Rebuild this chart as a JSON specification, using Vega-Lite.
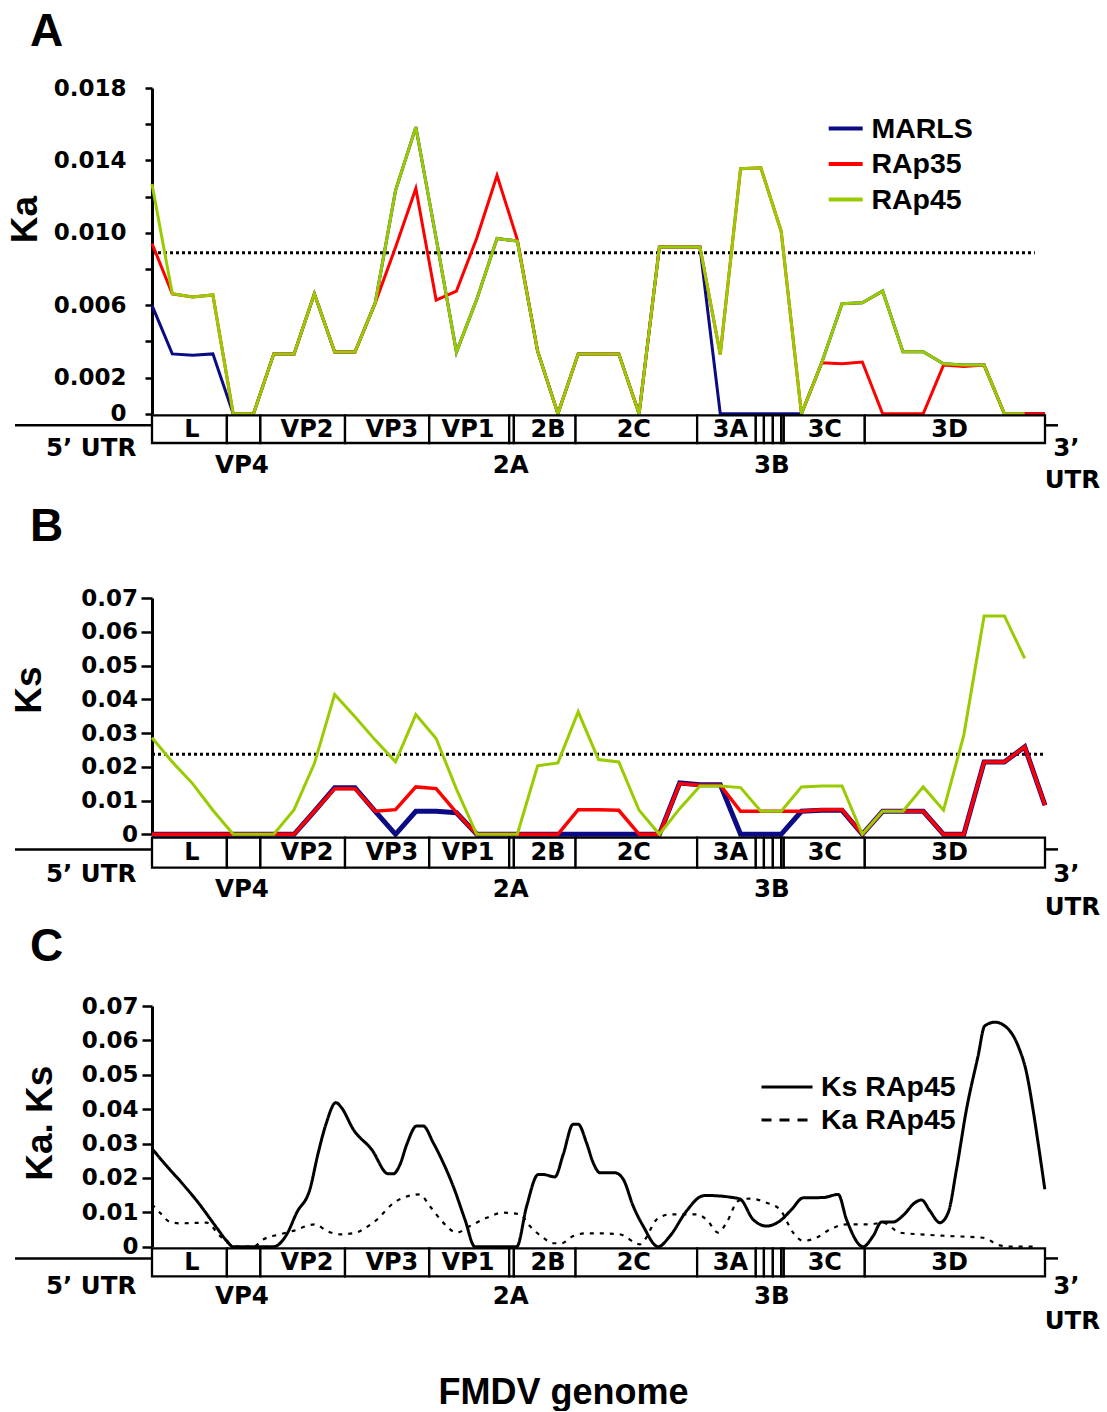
{
"$schema": "https://vega.github.io/schema/vega-lite/v6.json",
"background": "white",
"padding": {"left": 6, "top": 8, "right": 0, "bottom": 0},
"config": {"view": {"stroke": null}, "font": "Liberation Sans",
 "axis": {"domainColor": "black", "tickColor": "black", "labelColor": "black", "titleColor": "black", "grid": false, "domainWidth": 3, "tickWidth": 2.5, "labelFont": "DejaVu Sans", "labelFontWeight": "bold", "labelFontSize": 23, "labelOverlap": false, "labelBound": false, "labelFlush": false, "titleFont": "Liberation Sans", "titleFontWeight": "bold", "titleFontSize": 37, "titleAlign": "center", "titleBaseline": "middle"}},
"datasets": {
 "regions": [
  {"region": "L", "start": 0, "end": 3.69, "labelAt": 1.97},
  {"region": "VP4", "start": 3.69, "end": 5.34},
  {"region": "VP2", "start": 5.34, "end": 9.51, "labelAt": 7.64},
  {"region": "VP3", "start": 9.51, "end": 13.66, "labelAt": 11.82},
  {"region": "VP1", "start": 13.66, "end": 17.6, "labelAt": 15.57},
  {"region": "2A", "start": 17.6, "end": 17.83},
  {"region": "2B", "start": 17.83, "end": 20.87, "labelAt": 19.51},
  {"region": "2C", "start": 20.87, "end": 26.86, "labelAt": 23.74},
  {"region": "3A", "start": 26.86, "end": 29.75, "labelAt": 28.5},
  {"region": "3B-1", "start": 29.75, "end": 30.15},
  {"region": "3B-2", "start": 30.15, "end": 30.59},
  {"region": "3B-3", "start": 30.59, "end": 31.0},
  {"region": "3B-3C", "start": 31.0, "end": 31.13},
  {"region": "3C", "start": 31.13, "end": 35.12, "labelAt": 33.15},
  {"region": "3D", "start": 35.12, "end": 44, "labelAt": 39.3}
 ],
 "utr": [{"region": "5’ UTR", "start": -6.75, "end": 0}, {"region": "3’ UTR", "start": 44, "end": 44.64}],
 "belowLabels": [
  {"label": "5’ UTR", "pos": -3.0}, {"label": "VP4", "pos": 4.43}, {"label": "2A", "pos": 17.68},
  {"label": "3B", "pos": 30.54}, {"label": "3’", "pos": 45.05}, {"label": "UTR", "pos": 45.35}
 ],
 "kaThreshold": [{"start": 0, "end": 43.5, "value": 0.0089}],
 "ksThreshold": [{"start": 0, "end": 43.9, "value": 0.0237}],
 "ka": [
  {"series":"MARLS","window":0,"value":0.00599},{"series":"MARLS","window":1,"value":0.00331},{"series":"MARLS","window":2,"value":0.00323},{"series":"MARLS","window":3,"value":0.00331},{"series":"MARLS","window":4,"value":0},{"series":"MARLS","window":5,"value":0},{"series":"MARLS","window":6,"value":0.00331},{"series":"MARLS","window":7,"value":0.00331},{"series":"MARLS","window":8,"value":0.00663},{"series":"MARLS","window":9,"value":0.00341},{"series":"MARLS","window":10,"value":0.00341},{"series":"MARLS","window":11,"value":0.00613},{"series":"MARLS","window":12,"value":0.01234},{"series":"MARLS","window":13,"value":0.01584},{"series":"MARLS","window":14,"value":0.0097},{"series":"MARLS","window":15,"value":0.00341},{"series":"MARLS","window":16,"value":0.00632},{"series":"MARLS","window":17,"value":0.00969},{"series":"MARLS","window":18,"value":0.00954},{"series":"MARLS","window":19,"value":0.00346},{"series":"MARLS","window":20,"value":0},{"series":"MARLS","window":21,"value":0.00331},{"series":"MARLS","window":22,"value":0.00331},{"series":"MARLS","window":23,"value":0.00331},{"series":"MARLS","window":24,"value":0},{"series":"MARLS","window":25,"value":0.00921},{"series":"MARLS","window":26,"value":0.00921},{"series":"MARLS","window":27,"value":0.00921},{"series":"MARLS","window":28,"value":0},{"series":"MARLS","window":29,"value":0},{"series":"MARLS","window":30,"value":0},{"series":"MARLS","window":31,"value":0},{"series":"MARLS","window":32,"value":0},{"series":"MARLS","window":33,"value":0.00282},{"series":"MARLS","window":34,"value":0.00608},{"series":"MARLS","window":35,"value":0.00613},{"series":"MARLS","window":36,"value":0.00678},{"series":"MARLS","window":37,"value":0.00343},{"series":"MARLS","window":38,"value":0.00343},{"series":"MARLS","window":39,"value":0.00276},{"series":"MARLS","window":40,"value":0.00269},{"series":"MARLS","window":41,"value":0.00269},{"series":"MARLS","window":42,"value":0},{"series":"MARLS","window":43,"value":0},{"series":"MARLS","window":44,"value":0},
  {"series":"RAp35","window":0,"value":0.00941},{"series":"RAp35","window":1,"value":0.00663},{"series":"RAp35","window":2,"value":0.00646},{"series":"RAp35","window":3,"value":0.00657},{"series":"RAp35","window":4,"value":0},{"series":"RAp35","window":5,"value":0},{"series":"RAp35","window":6,"value":0.00331},{"series":"RAp35","window":7,"value":0.00331},{"series":"RAp35","window":8,"value":0.00663},{"series":"RAp35","window":9,"value":0.00341},{"series":"RAp35","window":10,"value":0.00341},{"series":"RAp35","window":11,"value":0.00613},{"series":"RAp35","window":12,"value":0.0092},{"series":"RAp35","window":13,"value":0.01245},{"series":"RAp35","window":14,"value":0.00628},{"series":"RAp35","window":15,"value":0.00678},{"series":"RAp35","window":16,"value":0.0097},{"series":"RAp35","window":17,"value":0.01317},{"series":"RAp35","window":18,"value":0.00963},{"series":"RAp35","window":19,"value":0.00346},{"series":"RAp35","window":20,"value":0},{"series":"RAp35","window":21,"value":0.00331},{"series":"RAp35","window":22,"value":0.00331},{"series":"RAp35","window":23,"value":0.00331},{"series":"RAp35","window":24,"value":0},{"series":"RAp35","window":25,"value":0.00921},{"series":"RAp35","window":26,"value":0.00921},{"series":"RAp35","window":27,"value":0.00921},{"series":"RAp35","window":28,"value":0.00328},{"series":"RAp35","window":29,"value":0.01354},{"series":"RAp35","window":30,"value":0.01359},{"series":"RAp35","window":31,"value":0.01009},{"series":"RAp35","window":32,"value":0},{"series":"RAp35","window":33,"value":0.00282},{"series":"RAp35","window":34,"value":0.00276},{"series":"RAp35","window":35,"value":0.00286},{"series":"RAp35","window":36,"value":0},{"series":"RAp35","window":37,"value":0},{"series":"RAp35","window":38,"value":0},{"series":"RAp35","window":39,"value":0.00269},{"series":"RAp35","window":40,"value":0.00262},{"series":"RAp35","window":41,"value":0.00269},{"series":"RAp35","window":42,"value":0},{"series":"RAp35","window":43,"value":0},{"series":"RAp35","window":44,"value":0},
  {"series":"RAp45","window":0,"value":0.0127},{"series":"RAp45","window":1,"value":0.00663},{"series":"RAp45","window":2,"value":0.00646},{"series":"RAp45","window":3,"value":0.00657},{"series":"RAp45","window":4,"value":0},{"series":"RAp45","window":5,"value":0},{"series":"RAp45","window":6,"value":0.00331},{"series":"RAp45","window":7,"value":0.00331},{"series":"RAp45","window":8,"value":0.00663},{"series":"RAp45","window":9,"value":0.00341},{"series":"RAp45","window":10,"value":0.00341},{"series":"RAp45","window":11,"value":0.00613},{"series":"RAp45","window":12,"value":0.01234},{"series":"RAp45","window":13,"value":0.01584},{"series":"RAp45","window":14,"value":0.0097},{"series":"RAp45","window":15,"value":0.00341},{"series":"RAp45","window":16,"value":0.00632},{"series":"RAp45","window":17,"value":0.00969},{"series":"RAp45","window":18,"value":0.00954},{"series":"RAp45","window":19,"value":0.00346},{"series":"RAp45","window":20,"value":0},{"series":"RAp45","window":21,"value":0.00331},{"series":"RAp45","window":22,"value":0.00331},{"series":"RAp45","window":23,"value":0.00331},{"series":"RAp45","window":24,"value":0},{"series":"RAp45","window":25,"value":0.00921},{"series":"RAp45","window":26,"value":0.00921},{"series":"RAp45","window":27,"value":0.00921},{"series":"RAp45","window":28,"value":0.00328},{"series":"RAp45","window":29,"value":0.01354},{"series":"RAp45","window":30,"value":0.01359},{"series":"RAp45","window":31,"value":0.01009},{"series":"RAp45","window":32,"value":0},{"series":"RAp45","window":33,"value":0.00282},{"series":"RAp45","window":34,"value":0.00608},{"series":"RAp45","window":35,"value":0.00613},{"series":"RAp45","window":36,"value":0.00678},{"series":"RAp45","window":37,"value":0.00343},{"series":"RAp45","window":38,"value":0.00343},{"series":"RAp45","window":39,"value":0.00276},{"series":"RAp45","window":40,"value":0.00269},{"series":"RAp45","window":41,"value":0.00269},{"series":"RAp45","window":42,"value":0},{"series":"RAp45","window":43,"value":0}
 ],
 "ks": [
  {"series":"MARLS","window":0,"value":0},{"series":"MARLS","window":1,"value":0},{"series":"MARLS","window":2,"value":0},{"series":"MARLS","window":3,"value":0},{"series":"MARLS","window":4,"value":0},{"series":"MARLS","window":5,"value":0},{"series":"MARLS","window":6,"value":0},{"series":"MARLS","window":7,"value":0},{"series":"MARLS","window":8,"value":0.0068},{"series":"MARLS","window":9,"value":0.0138},{"series":"MARLS","window":10,"value":0.0138},{"series":"MARLS","window":11,"value":0.00682},{"series":"MARLS","window":12,"value":0},{"series":"MARLS","window":13,"value":0.00682},{"series":"MARLS","window":14,"value":0.00682},{"series":"MARLS","window":15,"value":0.0064},{"series":"MARLS","window":16,"value":0},{"series":"MARLS","window":17,"value":0},{"series":"MARLS","window":18,"value":0},{"series":"MARLS","window":19,"value":0},{"series":"MARLS","window":20,"value":0},{"series":"MARLS","window":21,"value":0},{"series":"MARLS","window":22,"value":0},{"series":"MARLS","window":23,"value":0},{"series":"MARLS","window":24,"value":0},{"series":"MARLS","window":25,"value":0},{"series":"MARLS","window":26,"value":0.0152},{"series":"MARLS","window":27,"value":0.0147},{"series":"MARLS","window":28,"value":0.0147},{"series":"MARLS","window":29,"value":0},{"series":"MARLS","window":30,"value":0},{"series":"MARLS","window":31,"value":0},{"series":"MARLS","window":32,"value":0.00682},{"series":"MARLS","window":33,"value":0.0071},{"series":"MARLS","window":34,"value":0.0071},{"series":"MARLS","window":35,"value":0},{"series":"MARLS","window":36,"value":0.00682},{"series":"MARLS","window":37,"value":0.00682},{"series":"MARLS","window":38,"value":0.00682},{"series":"MARLS","window":39,"value":0},{"series":"MARLS","window":40,"value":0},{"series":"MARLS","window":41,"value":0.02145},{"series":"MARLS","window":42,"value":0.02145},{"series":"MARLS","window":43,"value":0.02591},{"series":"MARLS","window":44,"value":0.0086},
  {"series":"RAp35","window":0,"value":0},{"series":"RAp35","window":1,"value":0},{"series":"RAp35","window":2,"value":0},{"series":"RAp35","window":3,"value":0},{"series":"RAp35","window":4,"value":0},{"series":"RAp35","window":5,"value":0},{"series":"RAp35","window":6,"value":0},{"series":"RAp35","window":7,"value":0},{"series":"RAp35","window":8,"value":0.0068},{"series":"RAp35","window":9,"value":0.01353},{"series":"RAp35","window":10,"value":0.01353},{"series":"RAp35","window":11,"value":0.00682},{"series":"RAp35","window":12,"value":0.0073},{"series":"RAp35","window":13,"value":0.01404},{"series":"RAp35","window":14,"value":0.01353},{"series":"RAp35","window":15,"value":0.0064},{"series":"RAp35","window":16,"value":0},{"series":"RAp35","window":17,"value":0},{"series":"RAp35","window":18,"value":0},{"series":"RAp35","window":19,"value":0},{"series":"RAp35","window":20,"value":0},{"series":"RAp35","window":21,"value":0.0073},{"series":"RAp35","window":22,"value":0.0073},{"series":"RAp35","window":23,"value":0.00712},{"series":"RAp35","window":24,"value":0},{"series":"RAp35","window":25,"value":0},{"series":"RAp35","window":26,"value":0.01502},{"series":"RAp35","window":27,"value":0.01454},{"series":"RAp35","window":28,"value":0.01454},{"series":"RAp35","window":29,"value":0.00682},{"series":"RAp35","window":30,"value":0.00682},{"series":"RAp35","window":31,"value":0.00682},{"series":"RAp35","window":32,"value":0.00682},{"series":"RAp35","window":33,"value":0.0073},{"series":"RAp35","window":34,"value":0.0073},{"series":"RAp35","window":35,"value":0},{"series":"RAp35","window":36,"value":0.00682},{"series":"RAp35","window":37,"value":0.00682},{"series":"RAp35","window":38,"value":0.00682},{"series":"RAp35","window":39,"value":0},{"series":"RAp35","window":40,"value":0},{"series":"RAp35","window":41,"value":0.02145},{"series":"RAp35","window":42,"value":0.02145},{"series":"RAp35","window":43,"value":0.02591},{"series":"RAp35","window":44,"value":0.0086},
  {"series":"RAp45","window":0,"value":0.02858},{"series":"RAp45","window":1,"value":0.02145},{"series":"RAp45","window":2,"value":0.01502},{"series":"RAp45","window":3,"value":0.00712},{"series":"RAp45","window":4,"value":0},{"series":"RAp45","window":5,"value":0},{"series":"RAp45","window":6,"value":0},{"series":"RAp45","window":7,"value":0.0073},{"series":"RAp45","window":8,"value":0.02095},{"series":"RAp45","window":9,"value":0.04143},{"series":"RAp45","window":10,"value":0.0348},{"series":"RAp45","window":11,"value":0.0279},{"series":"RAp45","window":12,"value":0.02145},{"series":"RAp45","window":13,"value":0.0355},{"series":"RAp45","window":14,"value":0.02838},{"series":"RAp45","window":15,"value":0.0134},{"series":"RAp45","window":16,"value":0},{"series":"RAp45","window":17,"value":0},{"series":"RAp45","window":18,"value":0},{"series":"RAp45","window":19,"value":0.02027},{"series":"RAp45","window":20,"value":0.02116},{"series":"RAp45","window":21,"value":0.03629},{"series":"RAp45","window":22,"value":0.02214},{"series":"RAp45","window":23,"value":0.02145},{"series":"RAp45","window":24,"value":0.00712},{"series":"RAp45","window":25,"value":0},{"series":"RAp45","window":26,"value":0.0076},{"series":"RAp45","window":27,"value":0.01433},{"series":"RAp45","window":28,"value":0.01433},{"series":"RAp45","window":29,"value":0.01383},{"series":"RAp45","window":30,"value":0.00682},{"series":"RAp45","window":31,"value":0.00682},{"series":"RAp45","window":32,"value":0.01404},{"series":"RAp45","window":33,"value":0.01433},{"series":"RAp45","window":34,"value":0.01433},{"series":"RAp45","window":35,"value":0},{"series":"RAp45","window":36,"value":0.00682},{"series":"RAp45","window":37,"value":0.00682},{"series":"RAp45","window":38,"value":0.01404},{"series":"RAp45","window":39,"value":0.00712},{"series":"RAp45","window":40,"value":0.02938},{"series":"RAp45","window":41,"value":0.06469},{"series":"RAp45","window":42,"value":0.06469},{"series":"RAp45","window":43,"value":0.05211}
 ],
 "smooth": [
  {"series":"Ks RAp45","pos":0,"value":0.0285},{"series":"Ks RAp45","pos":0.72,"value":0.0235},{"series":"Ks RAp45","pos":1.46,"value":0.0186},{"series":"Ks RAp45","pos":2.28,"value":0.0128},{"series":"Ks RAp45","pos":3.19,"value":0.0055},{"series":"Ks RAp45","pos":3.68,"value":0.0017},{"series":"Ks RAp45","pos":4.0,"value":0},{"series":"Ks RAp45","pos":4.5,"value":0},{"series":"Ks RAp45","pos":5.98,"value":0},{"series":"Ks RAp45","pos":6.64,"value":0.0036},{"series":"Ks RAp45","pos":7.13,"value":0.0099},{"series":"Ks RAp45","pos":7.78,"value":0.0167},{"series":"Ks RAp45","pos":8.19,"value":0.0273},{"series":"Ks RAp45","pos":8.57,"value":0.0356},{"series":"Ks RAp45","pos":9.06,"value":0.0419},{"series":"Ks RAp45","pos":9.34,"value":0.0404},{"series":"Ks RAp45","pos":9.92,"value":0.0341},{"series":"Ks RAp45","pos":10.82,"value":0.0283},{"series":"Ks RAp45","pos":11.64,"value":0.0212},{"series":"Ks RAp45","pos":11.89,"value":0.0212},{"series":"Ks RAp45","pos":12.22,"value":0.0239},{"series":"Ks RAp45","pos":12.55,"value":0.0297},{"series":"Ks RAp45","pos":13.04,"value":0.0351},{"series":"Ks RAp45","pos":13.36,"value":0.0351},{"series":"Ks RAp45","pos":13.86,"value":0.0302},{"series":"Ks RAp45","pos":14.35,"value":0.0244},{"series":"Ks RAp45","pos":14.84,"value":0.0176},{"series":"Ks RAp45","pos":15.42,"value":0.0079},{"series":"Ks RAp45","pos":15.91,"value":0},{"series":"Ks RAp45","pos":17.97,"value":0},{"series":"Ks RAp45","pos":18.46,"value":0.0118},{"series":"Ks RAp45","pos":19.03,"value":0.021},{"series":"Ks RAp45","pos":19.28,"value":0.021},{"series":"Ks RAp45","pos":19.85,"value":0.0203},{"series":"Ks RAp45","pos":20.26,"value":0.0268},{"series":"Ks RAp45","pos":20.75,"value":0.0356},{"series":"Ks RAp45","pos":21.0,"value":0.0356},{"series":"Ks RAp45","pos":21.41,"value":0.0302},{"series":"Ks RAp45","pos":21.74,"value":0.0244},{"series":"Ks RAp45","pos":22.07,"value":0.0215},{"series":"Ks RAp45","pos":22.81,"value":0.0215},{"series":"Ks RAp45","pos":23.22,"value":0.0196},{"series":"Ks RAp45","pos":23.71,"value":0.0118},{"series":"Ks RAp45","pos":24.2,"value":0.006},{"series":"Ks RAp45","pos":24.94,"value":0},{"series":"Ks RAp45","pos":25.52,"value":0.0031},{"series":"Ks RAp45","pos":26.34,"value":0.0104},{"series":"Ks RAp45","pos":27.08,"value":0.0147},{"series":"Ks RAp45","pos":27.32,"value":0.0149},{"series":"Ks RAp45","pos":28.72,"value":0.0142},{"series":"Ks RAp45","pos":28.97,"value":0.0139},{"series":"Ks RAp45","pos":29.62,"value":0.0079},{"series":"Ks RAp45","pos":30.28,"value":0.006},{"series":"Ks RAp45","pos":30.94,"value":0.0075},{"series":"Ks RAp45","pos":31.51,"value":0.0108},{"series":"Ks RAp45","pos":32.08,"value":0.0142},{"series":"Ks RAp45","pos":33.07,"value":0.0143},{"series":"Ks RAp45","pos":33.81,"value":0.0152},{"series":"Ks RAp45","pos":34.22,"value":0.0079},{"series":"Ks RAp45","pos":35.04,"value":0},{"series":"Ks RAp45","pos":35.53,"value":0.0031},{"series":"Ks RAp45","pos":35.95,"value":0.0072},{"series":"Ks RAp45","pos":36.52,"value":0.0072},{"series":"Ks RAp45","pos":37.01,"value":0.0091},{"series":"Ks RAp45","pos":37.59,"value":0.0128},{"series":"Ks RAp45","pos":37.92,"value":0.0136},{"series":"Ks RAp45","pos":38.33,"value":0.0104},{"series":"Ks RAp45","pos":38.82,"value":0.007},{"series":"Ks RAp45","pos":39.23,"value":0.0099},{"series":"Ks RAp45","pos":39.64,"value":0.0225},{"series":"Ks RAp45","pos":40.13,"value":0.0399},{"series":"Ks RAp45","pos":40.7,"value":0.0554},{"series":"Ks RAp45","pos":41.03,"value":0.0642},{"series":"Ks RAp45","pos":41.53,"value":0.0653},{"series":"Ks RAp45","pos":42.02,"value":0.0642},{"series":"Ks RAp45","pos":42.68,"value":0.0583},{"series":"Ks RAp45","pos":43.09,"value":0.0506},{"series":"Ks RAp45","pos":43.41,"value":0.0399},{"series":"Ks RAp45","pos":43.66,"value":0.0302},{"series":"Ks RAp45","pos":43.99,"value":0.0167},
  {"series":"Ka RAp45","pos":0,"value":0.0123},{"series":"Ka RAp45","pos":0.39,"value":0.0099},{"series":"Ka RAp45","pos":0.89,"value":0.0072},{"series":"Ka RAp45","pos":1.38,"value":0.0068},{"series":"Ka RAp45","pos":2.69,"value":0.007},{"series":"Ka RAp45","pos":3.35,"value":0.0031},{"series":"Ka RAp45","pos":3.84,"value":0.0007},{"series":"Ka RAp45","pos":4.33,"value":0},{"series":"Ka RAp45","pos":4.99,"value":0},{"series":"Ka RAp45","pos":5.48,"value":0.0021},{"series":"Ka RAp45","pos":6.31,"value":0.0036},{"series":"Ka RAp45","pos":6.96,"value":0.0046},{"series":"Ka RAp45","pos":8.03,"value":0.0065},{"series":"Ka RAp45","pos":8.61,"value":0.0046},{"series":"Ka RAp45","pos":9.26,"value":0.0036},{"series":"Ka RAp45","pos":9.92,"value":0.0039},{"series":"Ka RAp45","pos":10.9,"value":0.007},{"series":"Ka RAp45","pos":12.05,"value":0.0133},{"series":"Ka RAp45","pos":13.2,"value":0.0152},{"series":"Ka RAp45","pos":13.69,"value":0.0118},{"series":"Ka RAp45","pos":14.35,"value":0.007},{"series":"Ka RAp45","pos":15.01,"value":0.0041},{"series":"Ka RAp45","pos":15.67,"value":0.006},{"series":"Ka RAp45","pos":16.49,"value":0.0084},{"series":"Ka RAp45","pos":17.31,"value":0.0099},{"series":"Ka RAp45","pos":18.13,"value":0.0094},{"series":"Ka RAp45","pos":18.62,"value":0.006},{"series":"Ka RAp45","pos":19.28,"value":0.0026},{"series":"Ka RAp45","pos":19.77,"value":0.001},{"series":"Ka RAp45","pos":20.18,"value":0.001},{"series":"Ka RAp45","pos":20.75,"value":0.0031},{"series":"Ka RAp45","pos":21.41,"value":0.0039},{"series":"Ka RAp45","pos":22.07,"value":0.0039},{"series":"Ka RAp45","pos":23.05,"value":0.0036},{"series":"Ka RAp45","pos":24.04,"value":0.0007},{"series":"Ka RAp45","pos":24.29,"value":0.0021},{"series":"Ka RAp45","pos":24.86,"value":0.0079},{"series":"Ka RAp45","pos":25.52,"value":0.0094},{"series":"Ka RAp45","pos":26.83,"value":0.0094},{"series":"Ka RAp45","pos":27.32,"value":0.0079},{"series":"Ka RAp45","pos":27.9,"value":0.0041},{"series":"Ka RAp45","pos":28.31,"value":0.007},{"series":"Ka RAp45","pos":28.88,"value":0.0133},{"series":"Ka RAp45","pos":29.46,"value":0.014},{"series":"Ka RAp45","pos":30.28,"value":0.0128},{"series":"Ka RAp45","pos":30.94,"value":0.0108},{"series":"Ka RAp45","pos":31.59,"value":0.0041},{"series":"Ka RAp45","pos":32.08,"value":0.0017},{"series":"Ka RAp45","pos":32.74,"value":0.0026},{"series":"Ka RAp45","pos":33.4,"value":0.005},{"series":"Ka RAp45","pos":34.22,"value":0.0065},{"series":"Ka RAp45","pos":35.37,"value":0.0065},{"series":"Ka RAp45","pos":36.02,"value":0.007},{"series":"Ka RAp45","pos":36.85,"value":0.0041},{"series":"Ka RAp45","pos":37.83,"value":0.0036},{"series":"Ka RAp45","pos":39.31,"value":0.0031},{"series":"Ka RAp45","pos":40.95,"value":0.0026},{"series":"Ka RAp45","pos":41.77,"value":0.0004},{"series":"Ka RAp45","pos":42.27,"value":0},{"series":"Ka RAp45","pos":43.58,"value":0}
 ]
},
"spacing": 0,
"bounds": "flush",
"resolve": {"scale": {"x": "independent", "y": "independent", "color": "independent", "strokeDash": "independent"}},
"vconcat": [
 {
  "width": 893, "height": 325.8,
  "title": {"text": "A", "anchor": "start", "frame": "group", "dx": -122, "offset": -14.5, "fontSize": 46, "font": "Liberation Sans", "fontWeight": "bold", "color": "black", "baseline": "alphabetic"},
  "layer": [
   {"data": {"name": "kaThreshold"}, "mark": {"type": "rule", "strokeDash": [3, 3], "strokeWidth": 3, "color": "black"},
    "encoding": {"x": {"field": "start", "type": "quantitative", "scale": {"domain": [0, 44], "nice": false, "zero": false}, "axis": null}, "x2": {"field": "end"},
     "y": {"field": "value", "type": "quantitative", "scale": {"domain": [0, 0.018], "nice": false, "zero": true},
      "axis": {"values": [0, 0.002, 0.004, 0.006, 0.008, 0.01, 0.012, 0.014, 0.016, 0.018], "tickCount": 50, "labelOverlap": false, "labelExpr": "datum.value == 0 ? '0' : (round(datum.value*1000) % 4 == 0 ? '' : format(datum.value, '.3f'))", "title": "Ka", "titleX": -127, "titleY": 131, "tickSize": 7, "labelPadding": 19}}}},
   {"data": {"name": "ka"}, "transform": [{"filter": "datum.series === 'MARLS'"}], "mark": {"type": "line", "strokeWidth": 3},
    "encoding": {"x": {"field": "window", "type": "quantitative"}, "y": {"field": "value", "type": "quantitative"},
     "color": {"field": "series", "type": "nominal", "scale": {"domain": ["MARLS", "RAp35", "RAp45"], "range": ["#0b0b86", "#ff0000", "#99cc00"]},
      "legend": {"title": null, "orient": "none", "legendX": 674.7, "legendY": 21.5, "symbolType": "stroke", "symbolSize": 1156, "symbolStrokeWidth": 4, "labelFont": "Liberation Sans", "labelFontSize": 28.5, "labelFontWeight": "bold", "labelColor": "black", "labelOffset": 6.7, "rowPadding": 1.5, "padding": 0, "labelLimit": 0}}}},
   {"data": {"name": "ka"}, "transform": [{"filter": "datum.series === 'RAp35'"}], "mark": {"type": "line", "strokeWidth": 3},
    "encoding": {"x": {"field": "window", "type": "quantitative"}, "y": {"field": "value", "type": "quantitative"}, "color": {"field": "series", "type": "nominal"}}},
   {"data": {"name": "ka"}, "transform": [{"filter": "datum.series === 'RAp45'"}], "mark": {"type": "line", "strokeWidth": 3},
    "encoding": {"x": {"field": "window", "type": "quantitative"}, "y": {"field": "value", "type": "quantitative"}, "color": {"field": "series", "type": "nominal"}}}
  ]
 },
 {
  "width": 893, "height": 183.3,
  "layer": [
   {"data": {"name": "regions"}, "mark": {"type": "rect", "fill": "white", "stroke": "black", "strokeWidth": 2.3},
    "encoding": {"x": {"field": "start", "type": "quantitative", "scale": {"domain": [0, 44], "nice": false, "zero": false}, "axis": null}, "x2": {"field": "end"},
     "y": {"datum": 0.05, "type": "quantitative", "scale": {"domain": [0, 6.321], "reverse": true, "nice": false, "zero": false}, "axis": null}, "y2": {"datum": 1}}},
   {"data": {"name": "regions"}, "transform": [{"filter": "isValid(datum.labelAt)"}], "mark": {"type": "text", "font": "DejaVu Sans", "fontWeight": "bold", "fontSize": 24, "baseline": "middle", "align": "center", "color": "black"},
    "encoding": {"x": {"field": "labelAt", "type": "quantitative"}, "y": {"datum": 0.55}, "text": {"field": "region"}}},
   {"data": {"name": "utr"}, "mark": {"type": "rule", "strokeWidth": 2.5, "color": "black"},
    "encoding": {"x": {"field": "start", "type": "quantitative"}, "x2": {"field": "end"}, "y": {"datum": 0.39}}},
   {"data": {"name": "belowLabels"}, "transform": [{"filter": "datum.label === '5’ UTR' || datum.label === '3’'"}], "mark": {"type": "text", "font": "DejaVu Sans", "fontWeight": "bold", "fontSize": 24.5, "baseline": "middle", "align": "center", "color": "black"},
    "encoding": {"x": {"field": "pos", "type": "quantitative"}, "y": {"datum": 1.2}, "text": {"field": "label"}}},
   {"data": {"name": "belowLabels"}, "transform": [{"filter": "indexof(['VP4', '2A', '3B'], datum.label) >= 0"}], "mark": {"type": "text", "font": "DejaVu Sans", "fontWeight": "bold", "fontSize": 24.5, "baseline": "middle", "align": "center", "color": "black"},
    "encoding": {"x": {"field": "pos", "type": "quantitative"}, "y": {"datum": 1.78}, "text": {"field": "label"}}},
   {"data": {"name": "belowLabels"}, "transform": [{"filter": "datum.label === 'UTR'"}], "mark": {"type": "text", "font": "DejaVu Sans", "fontWeight": "bold", "fontSize": 24.5, "baseline": "middle", "align": "center", "color": "black"},
    "encoding": {"x": {"field": "pos", "type": "quantitative"}, "y": {"datum": 2.3}, "text": {"field": "label"}}}
  ]
 },
 {
  "width": 893, "height": 236.3,
  "title": {"text": "B", "anchor": "start", "frame": "group", "dx": -122, "offset": 0, "fontSize": 46, "font": "Liberation Sans", "fontWeight": "bold", "color": "black", "baseline": "alphabetic"},
  "layer": [
   {"data": {"name": "ksThreshold"}, "mark": {"type": "rule", "strokeDash": [3, 3], "strokeWidth": 3, "color": "black"},
    "encoding": {"x": {"field": "start", "type": "quantitative", "scale": {"domain": [0, 44], "nice": false, "zero": false}, "axis": null}, "x2": {"field": "end"},
     "y": {"field": "value", "type": "quantitative", "scale": {"domain": [0, 0.07], "nice": false, "zero": true},
      "axis": {"values": [0, 0.01, 0.02, 0.03, 0.04, 0.05, 0.06, 0.07], "tickCount": 50, "labelOverlap": false, "labelExpr": "datum.value == 0 ? '0' : format(datum.value, '.2f')", "title": "Ks", "titleX": -123, "titleY": 91.5, "tickSize": 11, "labelPadding": 3.5}}}},
   {"data": {"name": "ks"}, "transform": [{"filter": "datum.series === 'MARLS'"}], "mark": {"type": "line", "strokeWidth": 5},
    "encoding": {"x": {"field": "window", "type": "quantitative"}, "y": {"field": "value", "type": "quantitative"},
     "color": {"field": "series", "type": "nominal", "scale": {"domain": ["MARLS", "RAp35", "RAp45"], "range": ["#0b0b86", "#ff0000", "#99cc00"]}, "legend": null}}},
   {"data": {"name": "ks"}, "transform": [{"filter": "datum.series === 'RAp35'"}], "mark": {"type": "line", "strokeWidth": 3.5},
    "encoding": {"x": {"field": "window", "type": "quantitative"}, "y": {"field": "value", "type": "quantitative"}, "color": {"field": "series", "type": "nominal", "legend": null}}},
   {"data": {"name": "ks"}, "transform": [{"filter": "datum.series === 'RAp45'"}], "mark": {"type": "line", "strokeWidth": 3},
    "encoding": {"x": {"field": "window", "type": "quantitative"}, "y": {"field": "value", "type": "quantitative"}, "color": {"field": "series", "type": "nominal", "legend": null}}}
  ]
 },
 {
  "width": 893, "height": 171,
  "layer": [
   {"data": {"name": "regions"}, "mark": {"type": "rect", "fill": "white", "stroke": "black", "strokeWidth": 2.3},
    "encoding": {"x": {"field": "start", "type": "quantitative", "scale": {"domain": [0, 44], "nice": false, "zero": false}, "axis": null}, "x2": {"field": "end"},
     "y": {"datum": 0, "type": "quantitative", "scale": {"domain": [-0.09, 5.61], "reverse": true, "nice": false, "zero": false}, "axis": null}, "y2": {"datum": 1}}},
   {"data": {"name": "regions"}, "transform": [{"filter": "isValid(datum.labelAt)"}], "mark": {"type": "text", "font": "DejaVu Sans", "fontWeight": "bold", "fontSize": 24, "baseline": "middle", "align": "center", "color": "black"},
    "encoding": {"x": {"field": "labelAt", "type": "quantitative"}, "y": {"datum": 0.52}, "text": {"field": "region"}}},
   {"data": {"name": "utr"}, "mark": {"type": "rule", "strokeWidth": 2.5, "color": "black"},
    "encoding": {"x": {"field": "start", "type": "quantitative"}, "x2": {"field": "end"}, "y": {"datum": 0.39}}},
   {"data": {"name": "belowLabels"}, "transform": [{"filter": "datum.label === '5’ UTR' || datum.label === '3’'"}], "mark": {"type": "text", "font": "DejaVu Sans", "fontWeight": "bold", "fontSize": 24.5, "baseline": "middle", "align": "center", "color": "black"},
    "encoding": {"x": {"field": "pos", "type": "quantitative"}, "y": {"datum": 1.25}, "text": {"field": "label"}}},
   {"data": {"name": "belowLabels"}, "transform": [{"filter": "indexof(['VP4', '2A', '3B'], datum.label) >= 0"}], "mark": {"type": "text", "font": "DejaVu Sans", "fontWeight": "bold", "fontSize": 24.5, "baseline": "middle", "align": "center", "color": "black"},
    "encoding": {"x": {"field": "pos", "type": "quantitative"}, "y": {"datum": 1.73}, "text": {"field": "label"}}},
   {"data": {"name": "belowLabels"}, "transform": [{"filter": "datum.label === 'UTR'"}], "mark": {"type": "text", "font": "DejaVu Sans", "fontWeight": "bold", "fontSize": 24.5, "baseline": "middle", "align": "center", "color": "black"},
    "encoding": {"x": {"field": "pos", "type": "quantitative"}, "y": {"datum": 2.35}, "text": {"field": "label"}}}
  ]
 },
 {
  "width": 893, "height": 240.7,
  "title": {"text": "C", "anchor": "start", "frame": "group", "dx": -122, "offset": -11.7, "fontSize": 46, "font": "Liberation Sans", "fontWeight": "bold", "color": "black", "baseline": "alphabetic"},
  "layer": [
   {"data": {"name": "smooth"}, "transform": [{"filter": "datum.series === 'Ks RAp45'"}], "mark": {"type": "line", "strokeWidth": 3, "color": "black", "interpolate": "monotone"},
    "encoding": {"x": {"field": "pos", "type": "quantitative", "scale": {"domain": [0, 44], "nice": false, "zero": false}, "axis": null},
     "y": {"field": "value", "type": "quantitative", "scale": {"domain": [0, 0.07], "nice": false, "zero": true},
      "axis": {"values": [0, 0.01, 0.02, 0.03, 0.04, 0.05, 0.06, 0.07], "tickCount": 50, "labelOverlap": false, "labelExpr": "datum.value == 0 ? '0' : format(datum.value, '.2f')", "title": "Ka. Ks", "titleX": -112, "titleY": 116.7, "tickSize": 10, "labelPadding": 4}},
     "strokeDash": {"field": "series", "type": "nominal", "scale": {"domain": ["Ks RAp45", "Ka RAp45"], "range": [[1, 0], [10, 8]]},
      "legend": {"title": null, "orient": "none", "legendX": 616.5, "legendY": 62.4, "symbolType": "M-1.5,0H1.5", "symbolSize": 1156, "symbolStrokeWidth": 3, "symbolStrokeColor": "black", "symbolFillColor": "transparent", "labelFont": "Liberation Sans", "labelFontSize": 28.5, "labelFontWeight": "bold", "labelColor": "black", "labelOffset": 15.5, "rowPadding": 0, "padding": 0, "labelLimit": 0}}}},
   {"data": {"name": "smooth"}, "transform": [{"filter": "datum.series === 'Ka RAp45'"}], "mark": {"type": "line", "strokeWidth": 2.2, "color": "black", "interpolate": "monotone", "strokeDash": [4, 6]},
    "encoding": {"x": {"field": "pos", "type": "quantitative"}, "y": {"field": "value", "type": "quantitative"}}}
  ]
 },
 {
  "width": 893, "height": 29.3,
  "layer": [
   {"data": {"name": "regions"}, "mark": {"type": "rect", "fill": "white", "stroke": "black", "strokeWidth": 2.3},
    "encoding": {"x": {"field": "start", "type": "quantitative", "scale": {"domain": [0, 44], "nice": false, "zero": false},
      "axis": {"orient": "bottom", "domain": false, "ticks": false, "labels": false, "title": "FMDV genome", "titleFont": "Liberation Sans", "titleFontSize": 36, "titleFontWeight": "bold", "titleX": 411, "titleY": 116, "titleAlign": "center", "titleBaseline": "middle", "titleColor": "black"}}, "x2": {"field": "end"},
     "y": {"datum": 0.05, "type": "quantitative", "scale": {"domain": [0, 1], "reverse": true, "nice": false, "zero": false}, "axis": null}, "y2": {"datum": 1}}},
   {"data": {"name": "regions"}, "transform": [{"filter": "isValid(datum.labelAt)"}], "mark": {"type": "text", "font": "DejaVu Sans", "fontWeight": "bold", "fontSize": 24, "baseline": "middle", "align": "center", "color": "black"},
    "encoding": {"x": {"field": "labelAt", "type": "quantitative"}, "y": {"datum": 0.55}, "text": {"field": "region"}}},
   {"data": {"name": "utr"}, "mark": {"type": "rule", "strokeWidth": 2.5, "color": "black"},
    "encoding": {"x": {"field": "start", "type": "quantitative"}, "x2": {"field": "end"}, "y": {"datum": 0.39}}},
   {"data": {"name": "belowLabels"}, "transform": [{"filter": "datum.label === '5’ UTR' || datum.label === '3’'"}], "mark": {"type": "text", "font": "DejaVu Sans", "fontWeight": "bold", "fontSize": 24.5, "baseline": "middle", "align": "center", "color": "black"},
    "encoding": {"x": {"field": "pos", "type": "quantitative"}, "y": {"datum": 1.35}, "text": {"field": "label"}}},
   {"data": {"name": "belowLabels"}, "transform": [{"filter": "indexof(['VP4', '2A', '3B'], datum.label) >= 0"}], "mark": {"type": "text", "font": "DejaVu Sans", "fontWeight": "bold", "fontSize": 24.5, "baseline": "middle", "align": "center", "color": "black"},
    "encoding": {"x": {"field": "pos", "type": "quantitative"}, "y": {"datum": 1.72}, "text": {"field": "label"}}},
   {"data": {"name": "belowLabels"}, "transform": [{"filter": "datum.label === 'UTR'"}], "mark": {"type": "text", "font": "DejaVu Sans", "fontWeight": "bold", "fontSize": 24.5, "baseline": "middle", "align": "center", "color": "black"},
    "encoding": {"x": {"field": "pos", "type": "quantitative"}, "y": {"datum": 2.55}, "text": {"field": "label"}}}
  ]
 }
]
}
